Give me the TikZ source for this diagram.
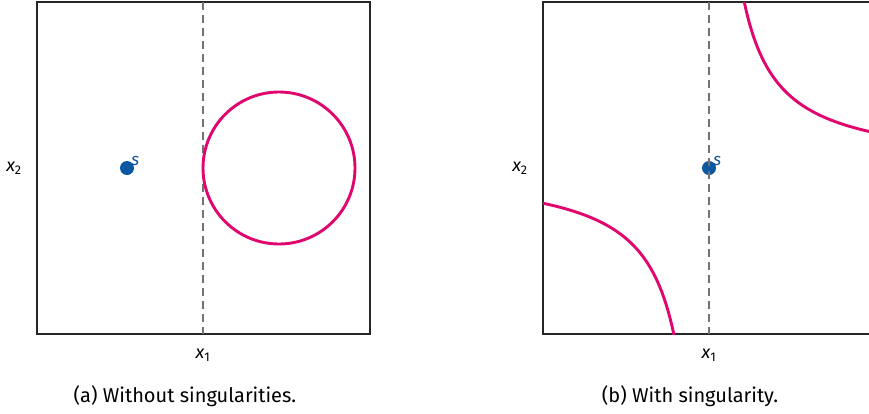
\documentclass[tikz,border=0pt]{standalone}
\usepackage{fontspec}
\setmainfont{Fira Sans}
\definecolor{curvepink}{HTML}{E0066E}
\definecolor{pointblue}{HTML}{0B57A0}
\begin{document}
\begin{tikzpicture}[x=1pt, y=-1pt,
    frame/.style={draw=black!85, line width=1.1pt},
    axisline/.style={draw=black!55, line width=1.2pt, dash pattern=on 8pt off 5pt},
    level/.style={draw=curvepink, line width=2.9pt},
    source/.style={circle, fill=pointblue, inner sep=0pt, minimum size=14pt},
    slabel/.style={text=pointblue, font=\fontsize{17}{19}\selectfont\itshape, anchor=south west, inner sep=0pt},
    lbl/.style={font=\fontsize{18}{21}\selectfont},
    caption/.style={font=\fontsize{20}{24}\selectfont}
]
\useasboundingbox (0,0) rectangle (869,413);
\clip (0,0) rectangle (869,413);

% (a) without singularities
\draw[frame] (37,2) rectangle (370,334);
\draw[axisline] (203,2) -- (203,334);
\node[source] (sa) at (127,168) {};
\node[slabel] (sa label) at ([xshift=-1pt, yshift=-3pt]sa.north east) {s};
\draw[level] (279,168) circle (76);
\node[lbl] (xa2) at (14,168) {{\itshape x}\textsubscript{2}};
\node[lbl] (xa1) at (203,355) {{\itshape x}\textsubscript{1}};
\node[caption] (capa) at (185,396) {(a) Without singularities.};

% (b) with singularity
\draw[frame] (543,2) rectangle (876,334);
\node[source] (sb) at (709,168) {};
\draw[axisline] (709,2) -- (709,334);
\node[slabel] (sb label) at ([xshift=-1pt, yshift=-3pt]sb.north east) {s};
\begin{scope}
  \clip (543,2) rectangle (876,334);
  \draw[level] plot[domain=30:175, samples=80] ({709+\x}, {168-5850/\x});
  \draw[level] plot[domain=-175:-30, samples=80] ({709+\x}, {168-5850/\x});
\end{scope}
\node[lbl] (xb2) at (520,168) {{\itshape x}\textsubscript{2}};
\node[lbl] (xb1) at (709,355) {{\itshape x}\textsubscript{1}};
\node[caption] (capb) at (690,396) {(b) With singularity.};

\end{tikzpicture}
\end{document}
